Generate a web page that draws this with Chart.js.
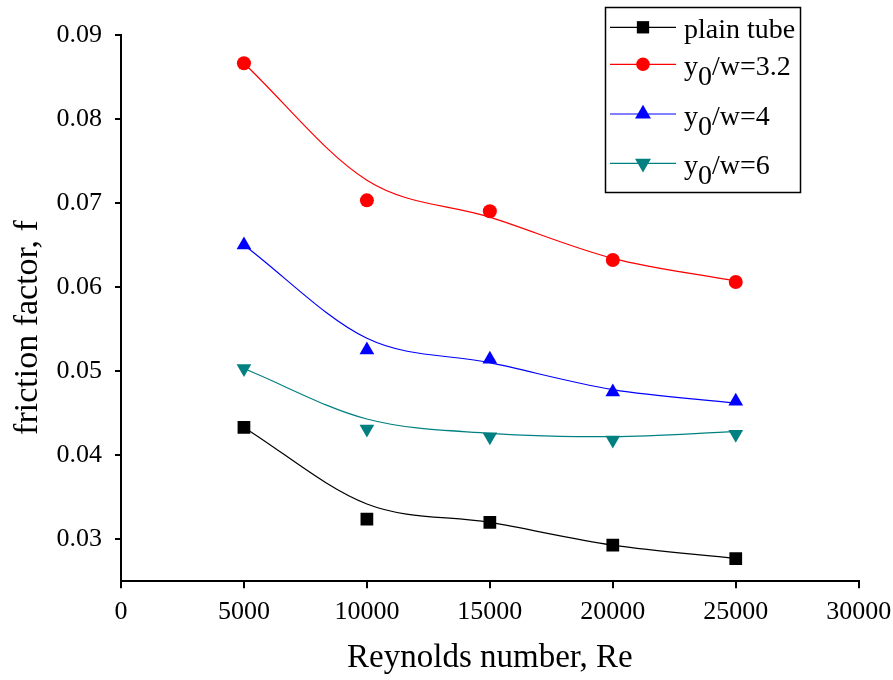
<!DOCTYPE html>
<html>
<head>
<meta charset="utf-8">
<script src="https://cdn.jsdelivr.net/npm/chart.js@4"></script>
<style>
  html, body { margin: 0; padding: 0; background: #fff; }
  #wrap { width: 893px; height: 680px; }
</style>
</head>
<body>
<div id="wrap"><canvas id="c" width="893" height="680"></canvas></div>
<script>
// ---- data ----
const reynolds = [5000, 10000, 15000, 20000, 25000];

// measured points
const plainTube = [0.0433, 0.0324, 0.0320, 0.0293, 0.0277];
const ratio32   = [0.0866, 0.0703, 0.0690, 0.0632, 0.0606];
const ratio4    = [0.0650, 0.0525, 0.0514, 0.0475, 0.0464];
const ratio6    = [0.0503, 0.0431, 0.0422, 0.0418, 0.0425];

// smooth fitted curves (values of the drawn curve at each Re)
const plainTubeFit = [0.0433, 0.0342, 0.0320, 0.0293, 0.0277];
const ratio32Fit   = [0.0866, 0.0727, 0.0683, 0.0634, 0.0607];
const ratio4Fit    = [0.0650, 0.0539, 0.0510, 0.0478, 0.0462];
const ratio6Fit    = [0.0503, 0.0443, 0.0426, 0.0422, 0.0428];

const seriesLabels = ['plain tube', 'y_0/w=3.2', 'y_0/w=4', 'y_0/w=6'];
const xTicks = [0, 5000, 10000, 15000, 20000, 25000, 30000];
const yTicks = [0.03, 0.04, 0.05, 0.06, 0.07, 0.08, 0.09];
const xTitle = 'Reynolds number, Re';
const yTitle = 'friction factor, f';

// ---- styles ----
const FONT = '"Liberation Serif", "Times New Roman", serif';
const colors = ['#000000', '#ff0000', '#0000ff', '#008080'];
const pointStyles = ['rect', 'circle', 'triangle', 'triangle'];
const pointRadii = [9, 7, 8.5, 8.5];
const pointRotations = [0, 0, 0, 180];

const pointSeries = [plainTube, ratio32, ratio4, ratio6];
const fitSeries = [plainTubeFit, ratio32Fit, ratio4Fit, ratio6Fit];

const toXY = arr => reynolds.map((x, i) => ({ x: x, y: arr[i] }));

const datasets = [];
pointSeries.forEach((arr, i) => {
  datasets.push({
    label: seriesLabels[i],
    data: toXY(arr),
    showLine: false,
    order: 0,
    pointStyle: pointStyles[i],
    pointRadius: pointRadii[i],
    pointRotation: pointRotations[i],
    pointBackgroundColor: colors[i],
    pointBorderColor: colors[i],
    pointBorderWidth: 0,
    backgroundColor: colors[i],
    borderColor: colors[i]
  });
});
fitSeries.forEach((arr, i) => {
  datasets.push({
    label: seriesLabels[i] + ' fit',
    data: toXY(arr),
    showLine: true,
    order: 1,
    pointRadius: 0,
    borderColor: colors[i],
    borderWidth: 1.2,
    fill: false,
    cubicInterpolationMode: 'monotone'
  });
});

function drawMarker(ctx, style, x, y, r, rot, color) {
  ctx.save();
  ctx.fillStyle = color;
  ctx.beginPath();
  if (style === 'rect') {
    const s = r * Math.SQRT1_2;
    ctx.rect(x - s, y - s, 2 * s, 2 * s);
  } else if (style === 'circle') {
    ctx.arc(x, y, r, 0, Math.PI * 2);
  } else {
    let a = rot * Math.PI / 180;
    ctx.moveTo(x + Math.sin(a) * r, y - Math.cos(a) * r);
    a += 2 * Math.PI / 3;
    ctx.lineTo(x + Math.sin(a) * r, y - Math.cos(a) * r);
    a += 2 * Math.PI / 3;
    ctx.lineTo(x + Math.sin(a) * r, y - Math.cos(a) * r);
    ctx.closePath();
  }
  ctx.fill();
  ctx.restore();
}

const decorations = {
  id: 'decorations',
  afterDraw(chart) {
    const ctx = chart.ctx;
    const area = chart.chartArea;
    ctx.save();
    ctx.fillStyle = '#000';
    // x title
    ctx.font = '33px ' + FONT;
    ctx.textAlign = 'center';
    ctx.textBaseline = 'alphabetic';
    ctx.fillText(xTitle, (area.left + area.right) / 2, 667);
    // y title
    ctx.save();
    ctx.translate(37, 327.5);
    ctx.rotate(-Math.PI / 2);
    ctx.font = '34px ' + FONT;
    ctx.fillText(yTitle, 0, 0);
    ctx.restore();

    // legend
    const bx = 605.5, by = 7.5, bw = 195, bh = 185;
    ctx.lineWidth = 1.5;
    ctx.strokeStyle = '#000';
    ctx.strokeRect(bx, by, bw, bh);
    const rowY = [27.3, 64.3, 114, 163.3];
    const legendRadii = [8.7, 6.8, 9.2, 9.2];
    ctx.font = '28px ' + FONT;
    ctx.textAlign = 'left';
    seriesLabels.forEach((lab, i) => {
      const y = rowY[i];
      ctx.strokeStyle = colors[i];
      ctx.lineWidth = 1.2;
      ctx.beginPath();
      ctx.moveTo(610, y);
      ctx.lineTo(676, y);
      ctx.stroke();
      drawMarker(ctx, pointStyles[i], 643, y, legendRadii[i], pointRotations[i], colors[i]);
      ctx.fillStyle = '#000';
      let x = 684;
      const base = y + 11;
      const parts = lab.split(/_(\d)/);
      parts.forEach((p, k) => {
        if (!p) return;
        const isSub = k % 2 === 1;
        ctx.fillText(p, x, isSub ? base + 10 : base);
        x += ctx.measureText(p).width;
      });
    });
    ctx.restore();
  }
};

new Chart(document.getElementById('c'), {
  type: 'line',
  data: { datasets: datasets },
  options: {
    responsive: false,
    animation: false,
    events: [],
    layout: { padding: { top: 34.7, right: 34.3, bottom: 0, left: 0 } },
    plugins: { legend: { display: false }, tooltip: { enabled: false } },
    scales: {
      x: {
        type: 'linear',
        min: 0,
        max: 30000,
        afterBuildTicks: s => { s.ticks = xTicks.map(v => ({ value: v })); },
        afterFit: s => { s.height = 98.7; s.paddingLeft = 0; s.paddingRight = 0; },
        border: { color: '#000', width: 2 },
        grid: { drawOnChartArea: false, drawTicks: true, color: '#000', lineWidth: 2, tickLength: 7 },
        ticks: {
          color: '#000',
          font: { family: FONT, size: 26 },
          padding: 8,
          maxRotation: 0,
          autoSkip: false,
          callback: v => String(v)
        }
      },
      y: {
        type: 'linear',
        min: 0.025,
        max: 0.09,
        afterBuildTicks: s => { s.ticks = yTicks.map(v => ({ value: v })); },
        afterFit: s => { s.width = 121; s.paddingTop = 0; s.paddingBottom = 0; },
        border: { color: '#000', width: 2 },
        grid: { drawOnChartArea: false, drawTicks: true, color: '#000', lineWidth: 2, tickLength: 6 },
        ticks: {
          color: '#000',
          font: { family: FONT, size: 26 },
          padding: 13,
          autoSkip: false,
          callback: v => v.toFixed(2)
        }
      }
    }
  },
  plugins: [decorations]
});
</script>
</body>
</html>
